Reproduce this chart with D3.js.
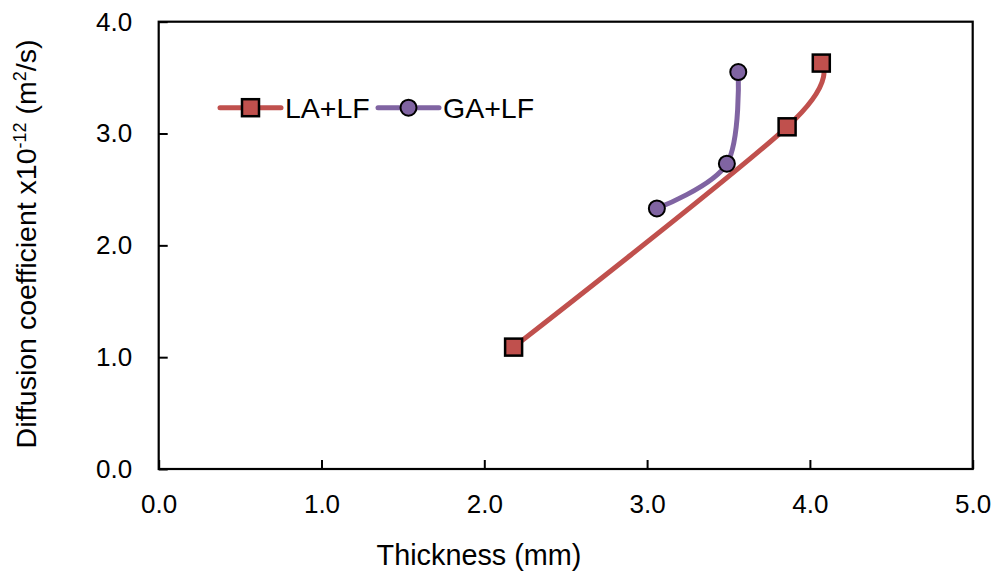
<!DOCTYPE html>
<html>
<head>
<meta charset="utf-8">
<script src="https://cdn.jsdelivr.net/npm/d3@7"></script>
<style>
body { margin: 0; background: #fff; }
text { font-family: "Liberation Sans", Arial, sans-serif; fill: #000; }
</style>
</head>
<body>
<div id="chart"></div>
<script>
// data
var seriesNames = ["LA+LF", "GA+LF"];
var laThickness = [2.18, 3.86, 4.07];
var laDiffusion = [1.09, 3.06, 3.63];
var gaThickness = [3.06, 3.49, 3.56];
var gaDiffusion = [2.33, 2.73, 3.55];
var xTicks = [0, 1, 2, 3, 4, 5];
var yTicks = [0, 1, 2, 3, 4];
var colors = ["#C0504D", "#8064A2"];

var margin = {top: 21.7, right: 24.3, bottom: 110, left: 158.7};
var W = 997, H = 579;
var width = W - margin.left - margin.right;
var height = 469 - margin.top;

var svg = d3.select("#chart").append("svg")
    .attr("width", W)
    .attr("height", H);

var g = svg.append("g")
    .attr("transform", "translate(" + margin.left + "," + margin.top + ")");

var x = d3.scaleLinear().domain([0, 5]).range([0, width]);
var y = d3.scaleLinear().domain([0, 4]).range([height, 0]);

var xAxis = g.append("g")
    .attr("transform", "translate(0," + height + ")")
    .call(d3.axisBottom(x).tickValues(xTicks).tickFormat(d3.format(".1f"))
        .tickSizeInner(-9).tickSizeOuter(0).tickPadding(25.5));
var yAxis = g.append("g")
    .call(d3.axisLeft(y).tickValues(yTicks).tickFormat(d3.format(".1f"))
        .tickSizeInner(-9).tickSizeOuter(0).tickPadding(26.5));

[xAxis, yAxis].forEach(function(a) {
    a.select(".domain").remove();
    a.selectAll("line").attr("stroke", "#000").attr("stroke-width", 2);
    a.selectAll("text").style("font-size", "26px").attr("fill", "#000");
});

// plot border
g.append("rect")
    .attr("x", 0).attr("y", 0)
    .attr("width", width).attr("height", height)
    .attr("fill", "none")
    .attr("stroke", "#000")
    .attr("stroke-width", 2.2);

var line = d3.line()
    .x(function(d) { return x(d[0]); })
    .y(function(d) { return y(d[1]); })
    .curve(d3.curveCardinal.tension(0));

var laData = d3.zip(laThickness, laDiffusion);
var gaData = d3.zip(gaThickness, gaDiffusion);

g.append("path").datum(laData)
    .attr("d", line).attr("fill", "none")
    .attr("stroke", colors[0]).attr("stroke-width", 5);

g.selectAll(".sq").data(laData).enter().append("rect")
    .attr("class", "sq")
    .attr("x", function(d) { return x(d[0]) - 8.5; })
    .attr("y", function(d) { return y(d[1]) - 8.5; })
    .attr("width", 17).attr("height", 17)
    .attr("fill", colors[0]).attr("stroke", "#000").attr("stroke-width", 2.5);

g.append("path").datum(gaData)
    .attr("d", line).attr("fill", "none")
    .attr("stroke", colors[1]).attr("stroke-width", 5);

g.selectAll(".ci").data(gaData).enter().append("circle")
    .attr("class", "ci")
    .attr("cx", function(d) { return x(d[0]); })
    .attr("cy", function(d) { return y(d[1]); })
    .attr("r", 8)
    .attr("fill", colors[1]).attr("stroke", "#000").attr("stroke-width", 2);

// legend
var legend = svg.append("g");
var legX = [220, 378];
seriesNames.forEach(function(name, i) {
    var lg = legend.append("g").attr("transform", "translate(" + legX[i] + ",107.7)");
    lg.append("line").attr("x1", 0).attr("x2", 61).attr("y1", 0).attr("y2", 0)
        .attr("stroke", colors[i]).attr("stroke-width", 5).attr("stroke-linecap", "round");
    if (i == 0) {
        lg.append("rect").attr("x", 30.5 - 8.5).attr("y", -8.5).attr("width", 17).attr("height", 17)
            .attr("fill", colors[i]).attr("stroke", "#000").attr("stroke-width", 2.5);
    } else {
        lg.append("circle").attr("cx", 30.5).attr("cy", 0).attr("r", 8)
            .attr("fill", colors[i]).attr("stroke", "#000").attr("stroke-width", 2);
    }
    lg.append("text").attr("x", 65).attr("y", 10)
        .style("font-size", "28.5px").text(name);
});

// axis titles
svg.append("text")
    .attr("x", 479).attr("y", 565)
    .attr("text-anchor", "middle")
    .style("font-size", "28.8px")
    .text("Thickness (mm)");

var yt = svg.append("text")
    .attr("transform", "translate(36,244) rotate(-90)")
    .attr("text-anchor", "middle")
    .style("font-size", "28.5px");
yt.append("tspan").text("Diffusion coefficient x10");
yt.append("tspan").attr("dy", -10).style("font-size", "18px").text("-12");
yt.append("tspan").attr("dy", 10).text(" (m");
yt.append("tspan").attr("dy", -10).style("font-size", "18px").text("2");
yt.append("tspan").attr("dy", 10).text("/s)");
</script>
</body>
</html>
